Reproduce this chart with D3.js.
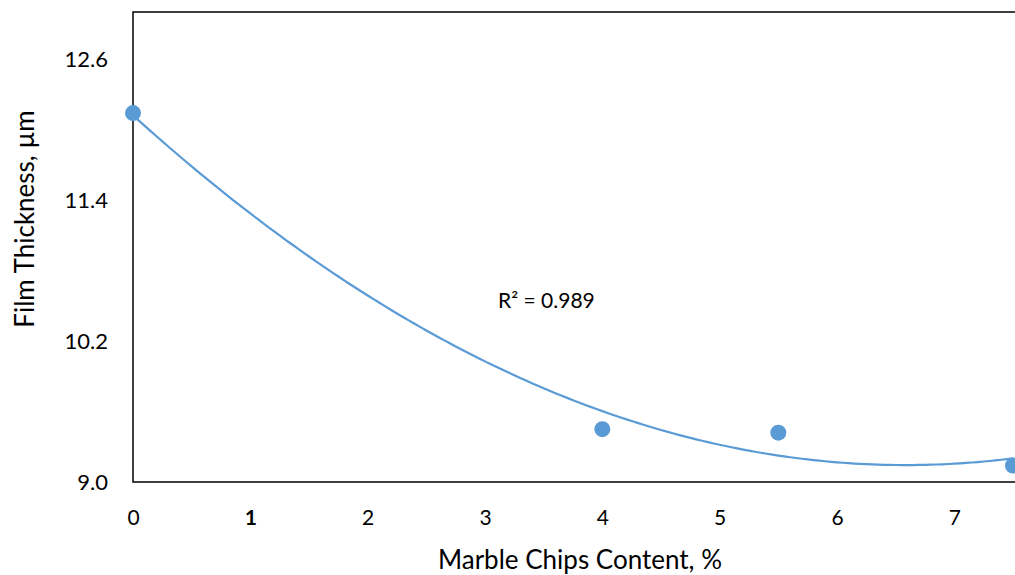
<!DOCTYPE html>
<html>
<head>
<meta charset="utf-8">
<script src="https://cdn.jsdelivr.net/npm/d3@7"></script>
<style>
  html, body { margin: 0; padding: 0; background: #fff; }
  #chart { width: 1015px; height: 575px; overflow: hidden; }
  text { font-family: Lato, "Open Sans", sans-serif; fill: #000; }
</style>
</head>
<body>
<div id="chart"></div>
<script>
document.addEventListener('DOMContentLoaded', init, false);

var width = 1015;
var height = 575;

var margin = { top: 12, right: -2, bottom: 93, left: 133 };

// data
var chipsContent = [0, 4, 5.5, 7.5];
var filmThickness = [12.14, 9.45, 9.42, 9.14];
var xTicks = [0, 1, 2, 3, 4, 5, 6, 7];
var yTicks = [9.0, 10.2, 11.4, 12.6];
var rSquaredLabel = 'R² = 0.989';

var blue = '#5b9bd5';

function init() {

  var svg = d3.select('#chart')
    .append('svg')
      .attr('width', width)
      .attr('height', height);

  var innerH = height - margin.top - margin.bottom;

  var chart = svg.append('g')
    .attr('transform', 'translate(' + margin.left + ',' + margin.top + ')');

  var x = d3.scaleLinear().domain([0, 7.5]).range([0, 880]);
  var y = d3.scaleLinear().domain([9.0, 13.0]).range([innerH, 0]);

  // frame: left, top, bottom
  chart.append('path')
    .attr('fill', 'none')
    .attr('stroke', '#000')
    .attr('stroke-width', 1.5)
    .attr('d', 'M' + (width) + ',0H0V' + innerH + 'H' + width);

  var xAxis = chart.append('g')
    .attr('transform', 'translate(0,' + innerH + ')')
    .call(d3.axisBottom(x).tickValues(xTicks).tickSize(0).tickPadding(28)
      .tickFormat(d3.format('d')));
  xAxis.select('.domain').remove();
  xAxis.selectAll('text')
    .attr('font-size', 21)
    .attr('font-family', 'Lato, sans-serif')
    .attr('font-weight', function (d) { return d === 1 ? 'bold' : null; });

  var yAxis = chart.append('g')
    .call(d3.axisLeft(y).tickValues(yTicks).tickSize(0).tickPadding(25)
      .tickFormat(d3.format('.1f')));
  yAxis.select('.domain').remove();
  yAxis.selectAll('text')
    .attr('font-size', 22)
    .attr('font-family', 'Lato, sans-serif');

  // polynomial (order 2) trendline, least squares on the points
  var coef = fitQuadratic(chipsContent, filmThickness);
  var curveX = d3.range(0, 7.5 + 1e-9, 0.05);
  var line = d3.line()
    .x(function (d) { return x(d); })
    .y(function (d) { return y(coef[0] + coef[1] * d + coef[2] * d * d); });

  chart.append('path')
    .datum(curveX)
    .attr('fill', 'none')
    .attr('stroke', blue)
    .attr('stroke-width', 2.2)
    .attr('d', line);

  chart.append('g')
    .selectAll('circle')
    .data(chipsContent)
    .enter()
    .append('circle')
      .attr('cx', function (d) { return x(d); })
      .attr('cy', function (d, i) { return y(filmThickness[i]); })
      .attr('r', 8)
      .attr('fill', blue);

  svg.append('text')
    .attr('x', 498)
    .attr('y', 308)
    .attr('font-size', 21)
    .text(rSquaredLabel);

  svg.append('text')
    .attr('x', 580)
    .attr('y', 569)
    .attr('text-anchor', 'middle')
    .attr('font-size', 26)
    .text('Marble Chips Content, %');

  svg.append('text')
    .attr('transform', 'translate(34,' + 219 + ') rotate(-90)')
    .attr('text-anchor', 'middle')
    .attr('font-size', 26)
    .text('Film Thickness, µm');
}

function fitQuadratic(xs, ys) {
  // normal equations for y = a + b x + c x^2
  var s = [0, 0, 0, 0, 0], t = [0, 0, 0];
  xs.forEach(function (xv, i) {
    for (var k = 0; k < 5; k++) s[k] += Math.pow(xv, k);
    for (var j = 0; j < 3; j++) t[j] += ys[i] * Math.pow(xv, j);
  });
  var m = [
    [s[0], s[1], s[2], t[0]],
    [s[1], s[2], s[3], t[1]],
    [s[2], s[3], s[4], t[2]]
  ];
  for (var i = 0; i < 3; i++) {
    for (var r = i + 1; r < 3; r++) {
      var f = m[r][i] / m[i][i];
      for (var c = i; c < 4; c++) m[r][c] -= f * m[i][c];
    }
  }
  var out = [0, 0, 0];
  for (var i2 = 2; i2 >= 0; i2--) {
    var v = m[i2][3];
    for (var c2 = i2 + 1; c2 < 3; c2++) v -= m[i2][c2] * out[c2];
    out[i2] = v / m[i2][i2];
  }
  return out;
}
</script>
</body>
</html>
